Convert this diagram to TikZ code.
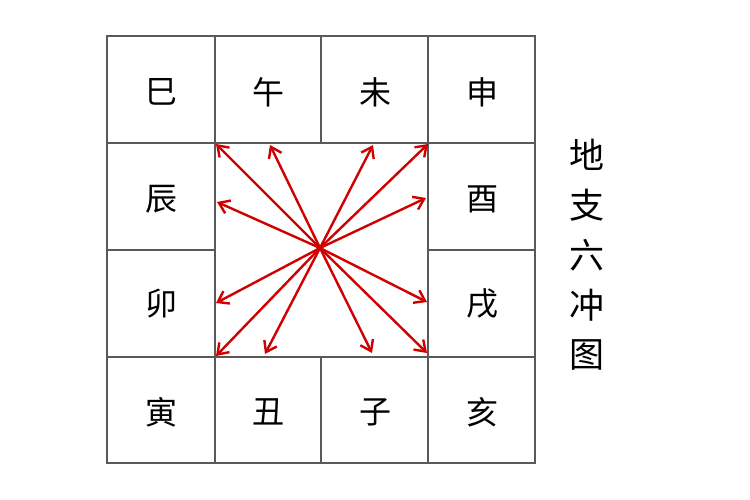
\documentclass[tikz,border=0pt]{standalone}
\usepackage{fontspec}
\newfontfamily\cjk{Noto Sans CJK SC}
\usetikzlibrary{arrows.meta}
\begin{document}
\begin{tikzpicture}[x=1pt,y=-1pt,
  gridline/.style={draw=black!65,line width=1.6pt},
  cell/.style={font=\cjk\fontsize{32}{32}\selectfont,text=black,inner sep=0pt},
  title/.style={font=\cjk\fontsize{35}{35}\selectfont,text=black,inner sep=0pt},
  chong/.style={draw=red!82!black,line width=2.4pt,-{Straight Barb[length=10pt,width=14pt,line width=2.4pt]}}]
\useasboundingbox (0,0) rectangle (750,500);
\fill[white] (0,0) rectangle (750,500);
% grid
\draw[gridline] (107,36) rectangle (535,463);
\draw[gridline] (107,143) -- (215,143) (428,143) -- (535,143);
\draw[gridline] (107,250) -- (215,250) (428,250) -- (535,250);
\draw[gridline] (107,357) -- (535,357);
\draw[gridline] (215,143) -- (428,143);
\draw[gridline] (215,36) -- (215,463);
\draw[gridline] (428,36) -- (428,463);
\draw[gridline] (321,36) -- (321,143) (321,357) -- (321,463);
% cells
\node[cell] (si) at (161,92) {巳};
\node[cell] (wu) at (268,92) {午};
\node[cell] (wei) at (375,92) {未};
\node[cell] (shen) at (482,92) {申};
\node[cell] (chen) at (161,199) {辰};
\node[cell] (you) at (482,199) {酉};
\node[cell] (mao) at (161,304) {卯};
\node[cell] (xu) at (482,304) {戌};
\node[cell] (yin) at (161,412) {寅};
\node[cell] (chou) at (268,412) {丑};
\node[cell] (zi) at (375,412) {子};
\node[cell] (hai) at (482,412) {亥};
% title
\node[title] (t1) at (587,155) {地};
\node[title] (t2) at (587,205) {支};
\node[title] (t3) at (587,255) {六};
\node[title] (t4) at (587,305) {冲};
\node[title] (t5) at (587,355) {图};
% arrows
\coordinate (c) at (320,248);
\coordinate (a1) at (216,144);
\coordinate (a2) at (270,145);
\coordinate (a3) at (373,145);
\coordinate (a4) at (428,144);
\coordinate (a5) at (217,202);
\coordinate (a6) at (426,198);
\coordinate (a7) at (216,303);
\coordinate (a8) at (427,302);
\coordinate (a9) at (216,356);
\coordinate (a10) at (265,354);
\coordinate (a11) at (372,353);
\coordinate (a12) at (427,353);
\foreach \t in {a1,a2,a3,a4,a5,a6,a7,a8,a9,a10,a11,a12}
  \draw[chong] (c) -- (\t);
\end{tikzpicture}
\end{document}
